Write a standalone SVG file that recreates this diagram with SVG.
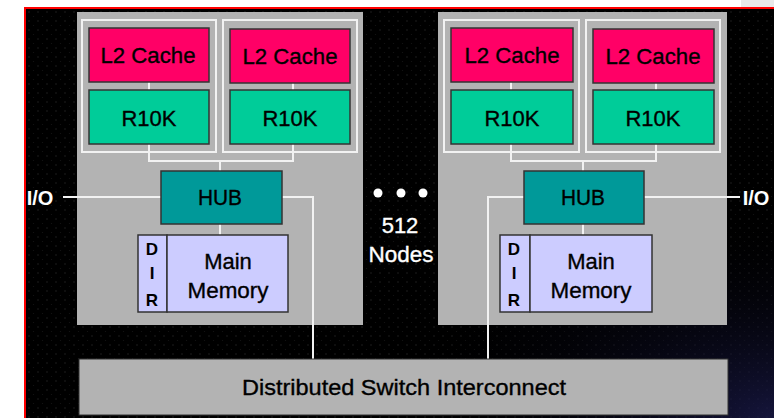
<svg xmlns="http://www.w3.org/2000/svg" width="774" height="418" viewBox="0 0 774 418">
<style>
.node{fill:#b3b3b3}
.cpu{fill:none;stroke:#f2f2f2;stroke-width:2}
.l2{fill:#ff0066;stroke:#333;stroke-width:1.5}
.r10k{fill:#00cc99;stroke:#333;stroke-width:1.5}
.hub{fill:#009999;stroke:#333;stroke-width:1.5}
.mem{fill:#ccccff;stroke:#333;stroke-width:1.5}
.sw{fill:#b3b3b3;stroke:#333;stroke-width:1}
.wire{fill:none;stroke:#f2f2f2;stroke-width:2}
text{font-family:"Liberation Sans",Arial,sans-serif;font-size:22px;text-anchor:middle;fill:#000;stroke:#000;stroke-width:0.35}
.w{fill:#fff;stroke:#fff}
.b{font-weight:bold;font-size:17px;stroke-width:0}
.io{font-weight:bold;font-size:20px;stroke-width:0}
</style>
<defs>
<pattern id="dots" width="9" height="9" patternUnits="userSpaceOnUse">
<rect width="9" height="9" fill="#000"/>
<circle cx="2" cy="3" r="0.8" fill="#1e1e1e"/>
<circle cx="6.5" cy="7.5" r="0.6" fill="#141414"/>
</pattern>
<radialGradient id="blue" cx="1" cy="1" r="0.5">
<stop offset="0" stop-color="#1a1a4a" stop-opacity="0.8"/>
<stop offset="1" stop-color="#000" stop-opacity="0"/>
</radialGradient>
</defs>
<rect width="774" height="418" fill="#fff"/>
<rect x="741" y="0" width="33" height="7" fill="#e8e8e8"/>
<rect x="24" y="7" width="750" height="411" fill="url(#dots)"/>
<rect x="24" y="7" width="750" height="411" fill="url(#blue)"/>
<rect x="24" y="7" width="750" height="2" fill="#ff0000"/>
<rect x="24" y="7" width="2" height="411" fill="#ff0000"/>

<g id="node-left">
<rect class="node" x="77" y="12" width="286" height="313"/>
<rect class="cpu" x="82" y="20" width="134" height="132"/>
<rect class="cpu" x="223" y="20" width="134" height="132"/>
</g>
<g id="node-right">
<rect class="node" x="438" y="12" width="289" height="313"/>
<rect class="cpu" x="444" y="20" width="135" height="132"/>
<rect class="cpu" x="586" y="20" width="134" height="132"/>
</g>

<g id="connectors">
<path class="wire" d="M149 82V90M293 83V90M149 144V161H293V144M220 161V171M220 224V235"/>
<path class="wire" d="M63 197H161M282 197H313V359"/>
<path class="wire" d="M511 82V90M656 83V90M511 144V161H656V144M583 161V171M583 224V235"/>
<path class="wire" d="M644 197H740M524 197H488V359"/>
</g>

<g id="l2-1"><rect class="l2" x="89" y="28" width="120" height="54"/><text x="148" y="63" textLength="95" lengthAdjust="spacingAndGlyphs">L2 Cache</text></g>
<g id="l2-2"><rect class="l2" x="230" y="29" width="120" height="54"/><text x="290" y="64" textLength="95" lengthAdjust="spacingAndGlyphs">L2 Cache</text></g>
<g id="r10k-1"><rect class="r10k" x="89" y="90" width="120" height="54"/><text x="149" y="126">R10K</text></g>
<g id="r10k-2"><rect class="r10k" x="230" y="90" width="120" height="54"/><text x="290" y="126">R10K</text></g>
<g id="hub-1"><rect class="hub" x="161" y="171" width="121" height="53"/><text x="220" y="205" textLength="44" lengthAdjust="spacingAndGlyphs">HUB</text></g>
<g id="dir-1"><rect class="mem" x="138" y="235" width="29" height="77"/><text class="b" x="152" y="255">D</text><text class="b" x="152" y="279">I</text><text class="b" x="152" y="306">R</text></g>
<g id="mem-1"><rect class="mem" x="167" y="235" width="121" height="77"/><text x="228" y="269">Main</text><text x="228" y="298" textLength="81" lengthAdjust="spacingAndGlyphs">Memory</text></g>
<g id="io-1"><text class="w io" x="40" y="205">I/O</text></g>

<g id="l2-3"><rect class="l2" x="451" y="28" width="122" height="54"/><text x="512" y="63" textLength="95" lengthAdjust="spacingAndGlyphs">L2 Cache</text></g>
<g id="l2-4"><rect class="l2" x="593" y="29" width="121" height="54"/><text x="653" y="64" textLength="95" lengthAdjust="spacingAndGlyphs">L2 Cache</text></g>
<g id="r10k-3"><rect class="r10k" x="451" y="90" width="122" height="54"/><text x="512" y="126">R10K</text></g>
<g id="r10k-4"><rect class="r10k" x="593" y="90" width="121" height="54"/><text x="653" y="126">R10K</text></g>
<g id="hub-2"><rect class="hub" x="524" y="171" width="120" height="53"/><text x="583" y="205" textLength="44" lengthAdjust="spacingAndGlyphs">HUB</text></g>
<g id="dir-2"><rect class="mem" x="500" y="235" width="30" height="77"/><text class="b" x="514" y="255">D</text><text class="b" x="514" y="279">I</text><text class="b" x="514" y="306">R</text></g>
<g id="mem-2"><rect class="mem" x="530" y="235" width="122" height="77"/><text x="591" y="269">Main</text><text x="591" y="298" textLength="81" lengthAdjust="spacingAndGlyphs">Memory</text></g>
<g id="io-2"><text class="w io" x="756" y="205">I/O</text></g>

<g id="more-nodes">
<circle cx="378" cy="193" r="4.5" fill="#fff"/>
<circle cx="401" cy="193" r="4.5" fill="#fff"/>
<circle cx="423" cy="193" r="4.5" fill="#fff"/>
<text class="w" x="400" y="233">512</text>
<text class="w" x="401" y="262" textLength="65" lengthAdjust="spacingAndGlyphs">Nodes</text>
</g>

<g id="switch">
<rect class="sw" x="79" y="359" width="649" height="56"/>
<text x="404" y="395" textLength="324" lengthAdjust="spacingAndGlyphs">Distributed Switch Interconnect</text>
</g>
</svg>
